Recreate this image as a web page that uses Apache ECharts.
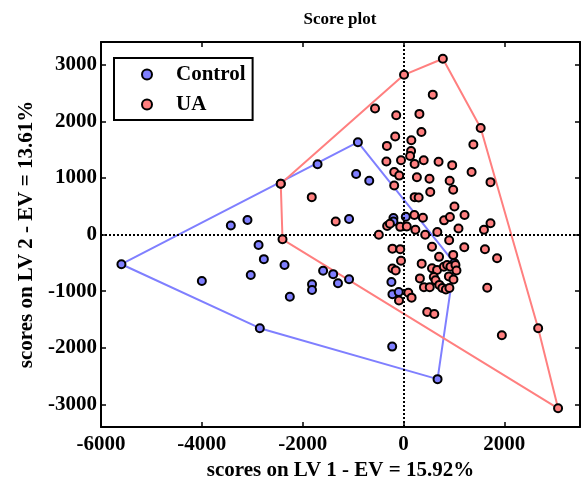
<!DOCTYPE html>
<html>
<head>
<meta charset="utf-8">
<title>Score plot</title>
<script src="https://cdn.jsdelivr.net/npm/echarts@6/dist/echarts.min.js"></script>
<style>
  html, body { margin: 0; padding: 0; background: #fff; }
  #myChart { width: 583px; height: 477px; }
</style>
</head>
<body>
<div id="myChart"></div>
<script>
// scores, [LV1, LV2]
var controlScores = [
  [-5595, -525], [-2850, -1655], [675, -2555], [1010, -505], [-905, 1630], [-2435, 895],
  [-3425, 160], [-3095, 255], [-1705, 1240], [-940, 1070], [-680, 950], [-1080, 275],
  [-200, 290], [-200, 230], [45, 315], [-4000, -820], [-3030, -715], [-2875, -185],
  [-2770, -435], [-2360, -540], [-2255, -1100], [-1815, -880], [-1815, -980],
  [-1595, -640], [-1395, -700], [-1300, -860], [-1080, -790], [-240, -840], [-220, -1055],
  [-95, -1015], [-225, -1980]
];
var uaScores = [
  [10, 2820], [780, 3105], [580, 2470], [-565, 2225], [-145, 2105], [315, 2130], [355, 1810], [-165, 1730], [155, 1665], [-330, 1565],
  [1385, 1590], [1530, 1880], [150, 1475], [130, 1385], [-340, 1290], [-50, 1310], [220, 1245], [400, 1310], [695, 1285], [965, 1225],
  [1350, 1105], [-185, 1105], [-85, 1040], [265, 1010], [515, 985], [915, 950], [1725, 925], [-185, 865], [985, 790], [530, 750],
  [-1820, 660], [220, 660], [300, 655], [1010, 495], [1210, 345], [-1345, 230], [215, 345], [385, 295], [805, 250], [920, 310],
  [-325, 150], [-270, 190], [-65, 135], [65, 140], [235, 85], [-490, -5], [430, -5], [670, 45], [1090, 105], [1595, 85],
  [1725, 200], [-2400, -85], [-220, -250], [-65, -260], [565, -215], [905, -100], [1205, -225], [1615, -260], [-50, -465], [360, -515],
  [705, -395], [985, -360], [1855, -420], [-220, -600], [-155, -635], [565, -595], [665, -625], [800, -570], [865, -540], [930, -570],
  [1030, -540], [1050, -635], [325, -775], [600, -750], [635, -810], [900, -740], [990, -795], [405, -930], [520, -930], [710, -890],
  [770, -945], [840, -970], [910, -945], [1660, -940], [-90, -1165], [95, -1030], [160, -1115], [470, -1370], [610, -1405], [1950, -1780],
  [2670, -1655], [3065, -3070], [-2435, 895]
];
var xTicks = [-6000, -4000, -2000, 0, 2000];
var yTicks = [-3000, -2000, -1000, 0, 1000, 2000, 3000];

// convex hull (monotone chain), returned closed
function convexHull(points) {
  var p = points.slice().sort(function (a, b) { return a[0] - b[0] || a[1] - b[1]; });
  function cross(o, a, b) {
    return (a[0] - o[0]) * (b[1] - o[1]) - (a[1] - o[1]) * (b[0] - o[0]);
  }
  var lower = [], upper = [];
  for (var i = 0; i < p.length; i++) {
    while (lower.length >= 2 && cross(lower[lower.length - 2], lower[lower.length - 1], p[i]) <= 0) lower.pop();
    lower.push(p[i]);
  }
  for (var j = p.length - 1; j >= 0; j--) {
    while (upper.length >= 2 && cross(upper[upper.length - 2], upper[upper.length - 1], p[j]) <= 0) upper.pop();
    upper.push(p[j]);
  }
  upper.pop();
  var h = lower.slice(0, -1).concat(upper);
  h.push(h[0]);
  return h;
}

document.addEventListener("DOMContentLoaded", function () {
  var myChart = echarts.init(document.getElementById("myChart"));

  var font = "Liberation Serif";
  var black = "#000";
  var blue = "#7f7fff";
  var red = "#ff7f7f";
  var txt = { color: black, fontFamily: font, fontSize: 21, fontWeight: "bold" };
  var plain = function (v) { return String(v); };

  function xAxisAt(pos, main) {
    return {
      type: "value", min: -6000, max: 3500, position: pos, gridIndex: 0,
      axisLine: { onZero: false, lineStyle: { color: black, width: 2 } },
      axisTick: { inside: true, length: 5, customValues: xTicks, lineStyle: { color: black, width: 1.5 } },
      axisLabel: Object.assign({ show: main, margin: 7, customValues: xTicks, formatter: plain }, txt),
      splitLine: { show: false },
      name: main ? "scores on LV 1 - EV = 15.92%" : "",
      nameLocation: "middle", nameGap: 25, nameTextStyle: txt
    };
  }
  function yAxisAt(pos, main) {
    return {
      type: "value", min: -3400, max: 3400, position: pos, gridIndex: 0,
      axisLine: { onZero: false, lineStyle: { color: black, width: 2 } },
      axisTick: { inside: true, length: 5, customValues: yTicks, lineStyle: { color: black, width: 1.5 } },
      axisLabel: Object.assign({ show: main, margin: 4, customValues: yTicks, formatter: plain }, txt),
      splitLine: { show: false },
      name: main ? "scores on LV 2 - EV = 13.61%" : "",
      nameLocation: "middle", nameGap: 56, nameTextStyle: txt
    };
  }

  var option = {
    animation: false,
    backgroundColor: "#fff",
    title: {
      text: "Score plot", left: 335, top: 6, textAlign: "center",
      textStyle: { color: black, fontFamily: font, fontSize: 17, fontWeight: "bold" }
    },
    legend: {
      data: ["Control", "UA"],
      orient: "vertical", left: 114, top: 58,
      borderColor: black, borderWidth: 2, borderRadius: 0,
      padding: [6, 7, 5, 27],
      itemWidth: 10, itemHeight: 10, itemGap: 9,
      icon: "circle",
      itemStyle: { borderColor: black, borderWidth: 2 },
      textStyle: Object.assign({ padding: [0, 0, 0, 19] }, txt)
    },
    grid: { left: 101, right: 3, top: 42, bottom: 50, outerBoundsMode: "none" },
    xAxis: [xAxisAt("bottom", true), xAxisAt("top", false)],
    yAxis: [yAxisAt("left", true), yAxisAt("right", false)],
    series: [
      {
        type: "line", data: convexHull(controlScores), symbol: "none", silent: true, z: 3,
        lineStyle: { color: blue, width: 2 },
        markLine: {
          silent: true, symbol: ["none", "none"], label: { show: false },
          lineStyle: { color: black, type: [2, 2], width: 2 },
          data: [{ xAxis: 0 }, { yAxis: 0 }]
        }
      },
      {
        type: "line", data: convexHull(uaScores), symbol: "none", silent: true, z: 3,
        lineStyle: { color: red, width: 2 }
      },
      {
        name: "Control", type: "scatter", data: controlScores, symbolSize: 8, z: 4,
        itemStyle: { color: blue, borderColor: black, borderWidth: 2, opacity: 1 }
      },
      {
        name: "UA", type: "scatter", data: uaScores, symbolSize: 8, z: 5,
        itemStyle: { color: red, borderColor: black, borderWidth: 2, opacity: 1 }
      }
    ]
  };

  myChart.setOption(option);
});
</script>
</body>
</html>
